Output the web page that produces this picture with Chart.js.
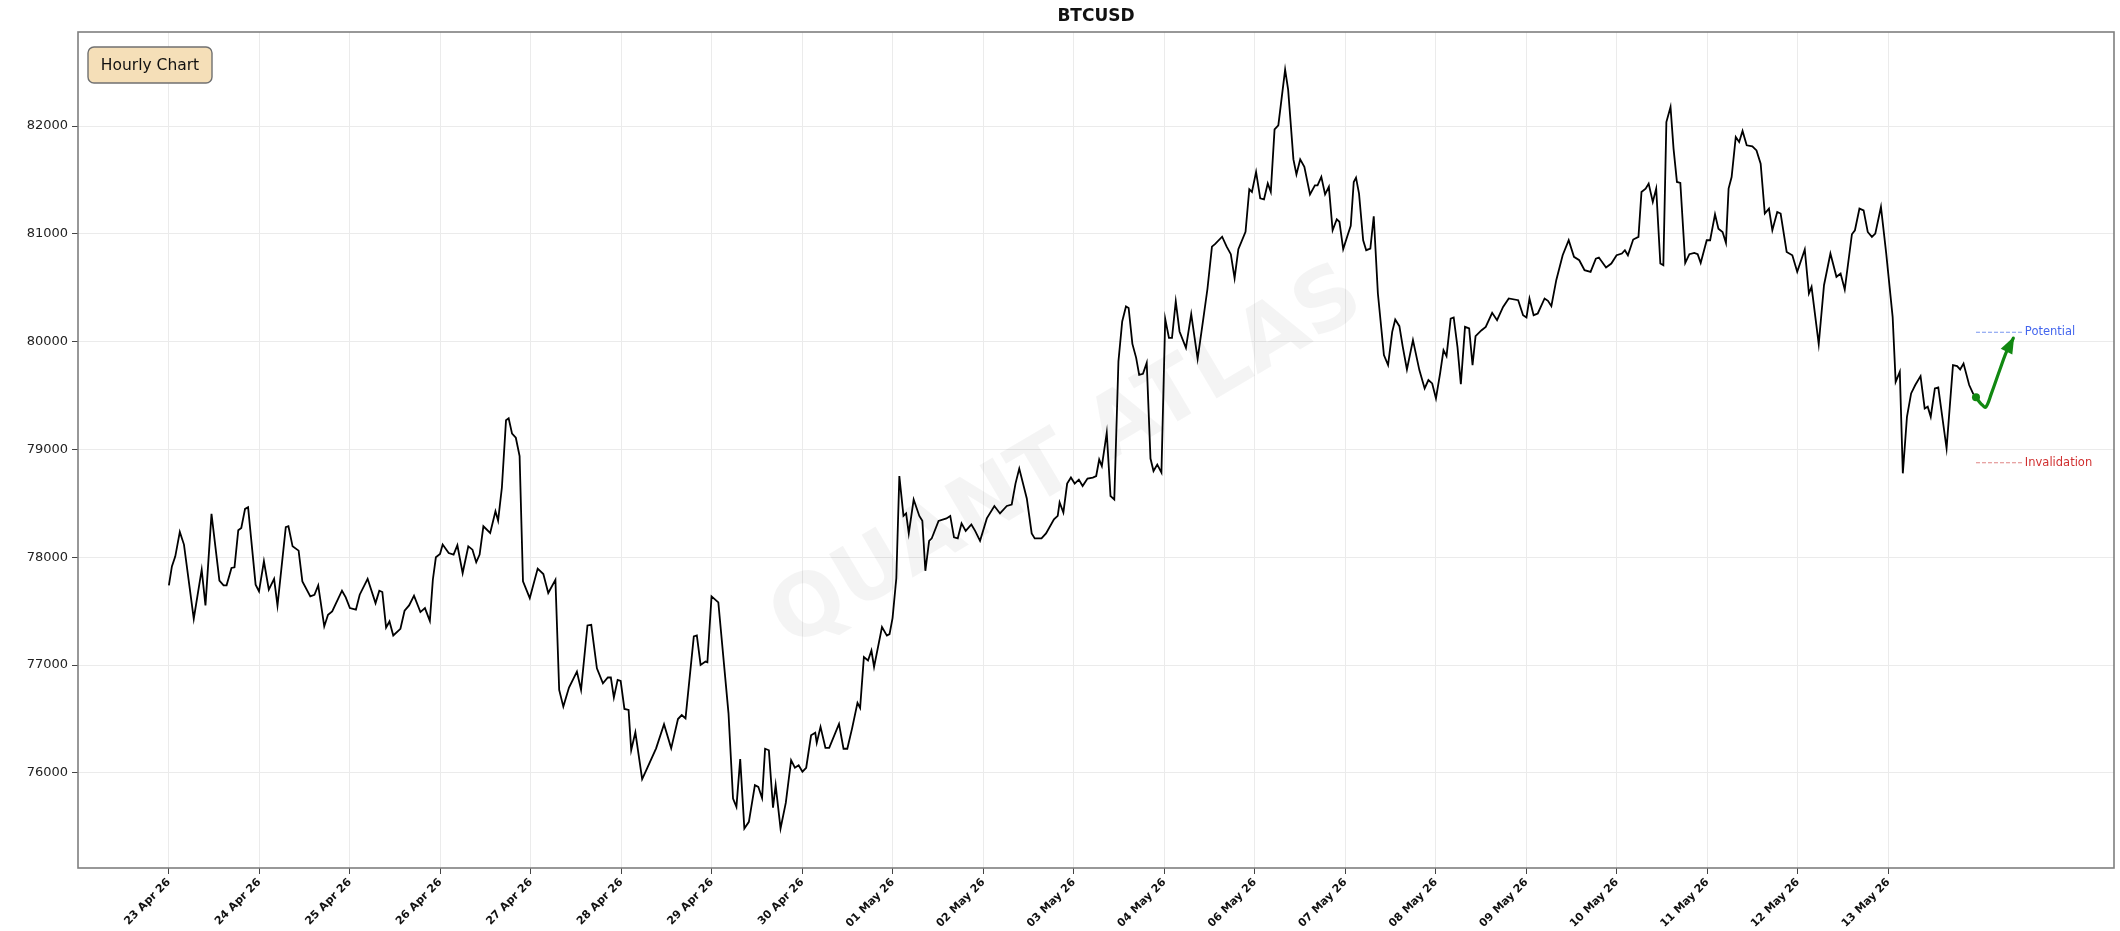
<!DOCTYPE html>
<html><head><meta charset="utf-8">
<script src="https://cdn.jsdelivr.net/npm/chart.js@4.4.1/dist/chart.umd.min.js"></script>
<style>html,body{margin:0;padding:0;background:#fff;}#wrap{width:2120px;height:931px;position:relative;}</style>
</head><body><div id="wrap"><canvas id="c"></canvas></div>
<script>
const chartTitle = 'BTCUSD';
const boxLabel = 'Hourly Chart';
const watermark = 'QUANT ATLAS';
const dateLabels = ['23 Apr 26','24 Apr 26','25 Apr 26','26 Apr 26','27 Apr 26','28 Apr 26','29 Apr 26','30 Apr 26','01 May 26','02 May 26','03 May 26','04 May 26','06 May 26','07 May 26','08 May 26','09 May 26','10 May 26','11 May 26','12 May 26','13 May 26'];
const yTicks = [76000,77000,78000,79000,80000,81000,82000];

const hours = [0,0.8,1.7,2.9,4.0,6.6,8.7,9.7,11.3,13.4,14.5,15.3,16.6,17.4,18.4,19.2,20.2,21.0,23.0,23.9,25.2,26.5,27.9,28.8,31.0,31.7,32.8,34.4,35.4,37.5,38.6,39.6,41.2,42.2,43.3,45.9,46.9,48.0,49.6,50.6,52.7,54.8,55.8,56.6,57.6,58.5,59.5,61.4,62.5,63.7,65.0,66.7,67.9,69.2,70.0,70.8,71.9,72.6,74.2,75.5,76.5,77.9,79.4,80.5,81.5,82.4,83.4,85.2,86.6,87.3,88.3,89.4,90.1,91.0,92.0,93.0,93.9,95.7,97.8,99.3,100.6,102.5,103.5,104.6,106.1,108.2,109.3,111.0,112.0,113.5,115.1,116.4,117.2,118.0,119.0,119.8,120.8,121.9,122.6,123.7,125.5,126.6,129.2,131.3,133.2,135.0,136.0,137.0,139.2,140.0,141.0,142.3,142.8,143.9,145.7,148.4,149.6,150.5,151.5,152.6,153.8,155.4,156.3,157.3,158.1,159.1,160.2,160.9,162.2,163.6,165.0,166.0,167.0,168.0,169.0,170.3,171.4,171.8,172.8,174.1,175.1,177.7,178.9,179.9,181.2,182.6,183.3,184.3,185.4,186.3,187.0,189.1,190.4,191.1,191.9,192.9,193.7,194.8,195.5,196.2,197.5,199.0,199.8,200.6,201.6,202.3,204.1,206.2,207.2,208.2,209.2,210.2,211.3,212.8,213.8,215.1,216.9,218.9,220.4,222.2,223.5,224.5,225.5,227.5,228.8,229.6,231.4,232.6,234.7,235.7,236.2,237.2,238.2,239.2,240.2,241.3,242.3,243.6,245.0,245.9,246.7,247.4,248.7,249.7,250.7,251.8,252.8,253.8,254.5,255.5,256.5,257.3,258.3,259.3,260.3,261.1,262.1,263.2,264.2,265.2,266.0,267.0,268.0,269.7,271.1,272.8,274.3,275.4,276.6,277.4,279.3,280.5,281.6,282.6,283.6,285.5,286.5,287.2,288.3,289.4,290.4,291.4,292.2,293.2,294.2,296.0,296.8,298.2,299.0,300.0,301.1,302.6,303.9,304.6,305.6,306.6,307.6,308.6,309.7,310.4,311.4,312.7,313.4,314.2,314.8,315.6,316.7,317.5,318.6,319.5,320.6,322.2,323.3,324.4,325.2,326.3,327.2,328.3,329.9,331.6,333.0,334.0,335.0,336.0,337.1,338.0,338.8,339.9,340.7,341.7,342.6,343.7,344.8,345.7,346.5,348.1,349.2,350.9,352.2,353.8,355.3,357.8,359.1,360.0,360.8,361.9,363.0,364.8,365.7,366.6,367.9,369.6,371.2,372.6,374.0,375.4,377.0,378.4,379.2,381.1,382.5,383.9,385.3,386.1,386.9,388.3,389.7,390.5,391.6,392.4,393.5,394.4,395.5,396.3,397.1,398.2,399.0,399.9,400.8,402.1,403.2,404.5,405.4,406.2,407.8,408.7,410.0,410.9,412.0,412.9,413.6,414.4,415.5,416.4,417.3,418.4,419.9,421.0,422.1,423.2,424.3,425.2,426.5,427.4,429.0,430.5,431.8,433.8,434.9,435.6,437.5,438.9,440.6,442.2,443.3,444.4,446.3,447.1,448.3,449.4,450.5,451.6,452.5,454.0,455.4,457.1,457.9,459.0,459.8,460.9,462.0,463.1,464.5,465.6,466.4,467.2,468.3,469.2,471.4,473.1,474.2,475.0,475.9,477.4,478.5];
const prices = [77739,77915,78008,78235,78117,77429,77884,77553,78402,77782,77739,77739,77900,77906,78250,78272,78448,78464,77745,77683,77962,77699,77800,77553,78278,78287,78101,78061,77776,77636,77652,77739,77358,77466,77497,77689,77627,77528,77513,77652,77800,77574,77689,77677,77348,77404,77274,77336,77503,77553,77643,77491,77528,77410,77791,77999,78030,78117,78039,78024,78111,77853,78101,78070,77953,78024,78287,78225,78427,78340,78644,79270,79288,79146,79108,78938,77776,77621,77894,77844,77668,77791,76769,76614,76791,76939,76769,77367,77373,76970,76831,76884,76884,76698,76862,76852,76592,76583,76211,76375,75941,76025,76227,76450,76227,76499,76536,76505,77265,77274,77001,77032,77026,77637,77581,76552,75762,75684,76127,75483,75545,75886,75870,75765,76223,76209,75677,75885,75483,75723,76117,76047,76070,76010,76047,76348,76371,76278,76426,76232,76232,76454,76223,76223,76417,76649,76602,77074,77042,77134,76982,77352,77273,77287,77435,77805,78753,78383,78406,78221,78535,78383,78337,77874,78152,78175,78337,78360,78383,78184,78175,78314,78244,78304,78244,78152,78360,78475,78406,78475,78489,78683,78822,78545,78221,78175,78175,78221,78351,78383,78508,78415,78683,78739,78683,78720,78660,78730,78739,78753,78906,78846,79155,78568,78535,79817,80187,80326,80312,79979,79849,79692,79701,79803,78915,78799,78859,78785,80210,80034,80034,80372,80094,79942,80256,79840,80210,80488,80881,80904,80973,80881,80811,80589,80858,81019,81413,81389,81574,81329,81320,81468,81389,81968,82005,82523,82338,81690,81551,81690,81621,81366,81450,81450,81528,81366,81436,81033,81135,81112,80858,81000,81075,81480,81521,81373,80940,80848,80863,81163,80446,79875,79782,80091,80205,80143,79952,79742,80014,79736,79566,79643,79612,79473,79705,79921,79865,80214,80224,79952,79606,80137,80122,79782,80051,80106,80137,80267,80199,80322,80400,80384,80245,80224,80400,80245,80261,80400,80378,80329,80570,80801,80940,80786,80755,80662,80647,80770,80780,80687,80724,80801,80817,80848,80801,80947,80971,81388,81419,81466,81296,81419,80724,80709,82037,82176,81790,81481,81472,80730,80811,80823,80811,80730,80940,80940,81181,81048,81017,80916,81419,81527,81898,81852,81954,81821,81812,81774,81651,81188,81234,81033,81203,81188,80832,80801,80647,80854,80446,80508,79977,80523,80817,80601,80632,80483,80996,81033,81234,81218,81017,80971,81002,81249,80817,80230,79627,79720,78778,79303,79519,79597,79680,79380,79396,79303,79566,79575,79010,79782,79773,79742,79797,79597,79513];

const projHours = [479.2,480.6,481.8,483.3,485.5,487.3,489.1];
const projPrices = [79483,79421,79393,79520,79737,79907,80031];

const potentialLevel = 80087;
const invalidationLevel = 78876;
const levelHours = [479.2, 491.9];

const FONT = "'DejaVu Sans', sans-serif";

const decorPlugin = {
  id: 'decor',
  beforeDatasetsDraw(chart) {
    const ctx = chart.ctx;
    ctx.save();
    ctx.translate(1068, 460);
    ctx.rotate(-30.5 * Math.PI / 180);
    ctx.font = "bold 86px " + FONT;
    ctx.textAlign = 'center';
    ctx.textBaseline = 'middle';
    ctx.fillStyle = 'rgba(0,0,0,0.045)';
    ctx.fillText(watermark, 0, 0);
    ctx.restore();
  },
  afterDraw(chart) {
    const ctx = chart.ctx;
    const a = chart.chartArea;
    const xs = chart.scales.x, ys = chart.scales.y;
    ctx.save();
    // frame
    ctx.strokeStyle = '#7f7f7f';
    ctx.lineWidth = 1.6;
    ctx.strokeRect(a.left, a.top, a.right - a.left, a.bottom - a.top);
    // title
    ctx.fillStyle = '#111';
    ctx.font = "bold 17px " + FONT;
    ctx.textAlign = 'center';
    ctx.textBaseline = 'middle';
    ctx.fillText(chartTitle, (a.left + a.right) / 2, 17);
    // hourly box
    ctx.beginPath();
    ctx.roundRect(88, 47, 124, 36, 6);
    ctx.fillStyle = '#f5dfb8';
    ctx.fill();
    ctx.strokeStyle = '#707070';
    ctx.lineWidth = 1.4;
    ctx.stroke();
    ctx.fillStyle = '#111';
    ctx.font = "15.5px " + FONT;
    ctx.fillText(boxLabel, 150, 66);
    // level labels
    ctx.font = "11.5px " + FONT;
    ctx.textAlign = 'left';
    const lx = xs.getPixelForValue(levelHours[1]) + 1;
    ctx.fillStyle = '#4466ee';
    ctx.fillText('Potential', lx, ys.getPixelForValue(potentialLevel));
    ctx.fillStyle = '#d03030';
    ctx.fillText('Invalidation', lx, ys.getPixelForValue(invalidationLevel));
    // arrow head
    const n = projHours.length;
    const x1 = xs.getPixelForValue(projHours[n-2]), y1 = ys.getPixelForValue(projPrices[n-2]);
    const x2 = xs.getPixelForValue(projHours[n-1]), y2 = ys.getPixelForValue(projPrices[n-1]);
    const ang = Math.atan2(y2 - y1, x2 - x1);
    const L = 15, W = 6.5;
    ctx.translate(x2, y2);
    ctx.rotate(ang);
    ctx.beginPath();
    ctx.moveTo(2, 0);
    ctx.lineTo(-L, -W);
    ctx.lineTo(-L, W);
    ctx.closePath();
    ctx.fillStyle = '#118811';
    ctx.fill();
    ctx.restore();
  }
};

const gridCommon = { color: '#ebebeb', lineWidth: 1, tickLength: 6, tickColor: '#444', drawTicks: true };

new Chart(document.getElementById('c'), {
  type: 'line',
  data: {
    datasets: [
      {
        data: hours.map((h, i) => ({ x: h, y: prices[i] })),
        borderColor: '#000', borderWidth: 1.8, pointRadius: 0, tension: 0, fill: false
      },
      {
        data: projHours.map((h, i) => ({ x: h, y: projPrices[i] })),
        borderColor: '#118811', borderWidth: 3.2, tension: 0.35, fill: false,
        pointRadius: projHours.map((_, i) => i === 0 ? 4 : 0),
        pointBackgroundColor: '#118811', pointBorderWidth: 0, borderCapStyle: 'round'
      },
      {
        data: levelHours.map(h => ({ x: h, y: potentialLevel })),
        borderColor: '#7a96f0', borderWidth: 1.2, borderDash: [4, 2], pointRadius: 0
      },
      {
        data: levelHours.map(h => ({ x: h, y: invalidationLevel })),
        borderColor: '#e08585', borderWidth: 1.2, borderDash: [4, 2], pointRadius: 0
      }
    ]
  },
  options: {
    responsive: true, maintainAspectRatio: false, animation: false,
    layout: { padding: { top: 32, right: 6, left: 0, bottom: 0 } },
    plugins: { legend: { display: false }, title: { display: false }, tooltip: { enabled: false } },
    scales: {
      x: {
        type: 'linear', min: -24.1, max: 515.8,
        afterBuildTicks: s => { s.ticks = dateLabels.map((_, i) => ({ value: i * 24 })); },
        afterFit: s => { s.height = 63; },
        ticks: {
          autoSkip: false, maxRotation: 45, minRotation: 45, padding: 2, color: '#111',
          font: { family: FONT, size: 11, weight: 'bold' },
          callback: (v, i) => dateLabels[i]
        },
        grid: gridCommon, border: { display: false }
      },
      y: {
        type: 'linear', min: 75117, max: 82872,
        afterBuildTicks: s => { s.ticks = yTicks.map(v => ({ value: v })); },
        afterFit: s => { s.width = 78; },
        ticks: { padding: 4, color: '#222', font: { family: FONT, size: 13 }, callback: v => String(v) },
        grid: gridCommon, border: { display: false }
      }
    }
  },
  plugins: [decorPlugin]
});
</script>
</body></html>
